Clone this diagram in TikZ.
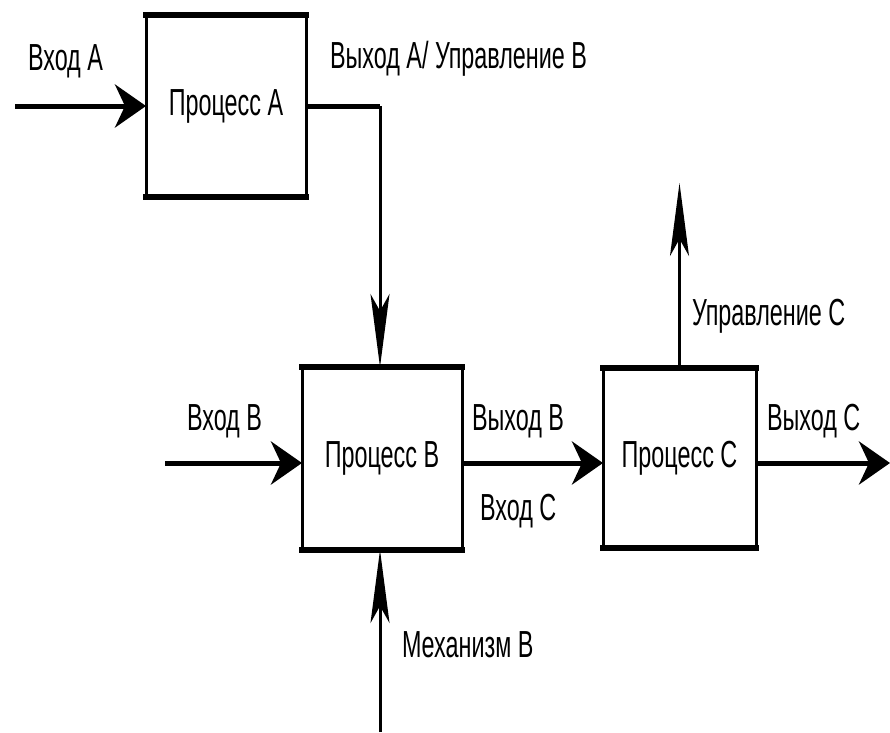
\documentclass[tikz,border=0pt]{standalone}
\usepackage{fontspec}
\setmainfont{Liberation Sans}[FakeStretch=0.62]
\usetikzlibrary{arrows.meta}
\tikzset{
  txt/.style={font=\fontsize{37.7pt}{40pt}\selectfont, inner sep=0pt, outer sep=0pt},
  lbl/.style={txt, anchor=base west},
  procbox/.style={txt, draw=none, minimum width=#1},
  sideline/.style={line width=3pt},
  tbline/.style={line width=5.5pt, line cap=rect},
  hline/.style={line width=5pt},
  vline/.style={line width=3pt},
  harrow/.style={-{Stealth[length=31pt,width=43pt,inset=10pt]}},
  varrow/.style={-{Stealth[length=73pt,width=19pt,inset=17pt]}},
}
\begin{document}
\begin{tikzpicture}[x=1pt,y=-1pt]
\useasboundingbox[fill=white] (0,0) rectangle (890,732);
% boxes
\node[procbox=160pt, minimum height=182pt] (A) at (226,106) {Процесс A};
\node[procbox=160pt, minimum height=183pt] (B) at (382,458.5) {Процесс B};
\node[procbox=153pt, minimum height=180pt] (C) at (679.5,458) {Процесс C};
\foreach \b in {A,B,C}{
  \draw[sideline] (\b.north west) -- (\b.south west) (\b.north east) -- (\b.south east);
  \draw[tbline] (\b.north west) -- (\b.north east) (\b.south west) -- (\b.south east);
}
% coordinates of free ends
\coordinate (inA) at (15,106);
\coordinate (bendA) at (380,106);
\coordinate (inB) at (165,463);
\coordinate (outC) at (890,463);
\coordinate (ctlC) at (679.5,183);
\coordinate (mechB) at (380,732);
% connectors
\draw[hline, harrow] (inA) -- (A.west);
\draw[hline] (A.east) -- (bendA);
\draw[vline, varrow] (bendA) -- (bendA |- B.north);
\draw[hline, harrow] (inB) -- (inB -| B.west);
\draw[hline, harrow] (inB -| B.east) -- (inB -| C.west);
\draw[hline, harrow] (inB -| C.east) -- (outC);
\draw[vline, varrow] (C.north) -- (ctlC);
\draw[vline, varrow] (mechB) -- (mechB |- B.south);
% labels
\node[lbl] (lInA) at (28,70) {Вход A};
\node[lbl] (lOutA) at (330,68) {Выход A/ Управление B};
\node[lbl] (lInB) at (187,430) {Вход B};
\node[lbl] (lOutB) at (472,430) {Выход B};
\node[lbl] (lInC) at (480,520) {Вход C};
\node[lbl] (lOutC) at (767,430) {Выход C};
\node[lbl] (lCtlC) at (692,325) {Управление C};
\node[lbl] (lMechB) at (402,657) {Механизм B};
\end{tikzpicture}
\end{document}
